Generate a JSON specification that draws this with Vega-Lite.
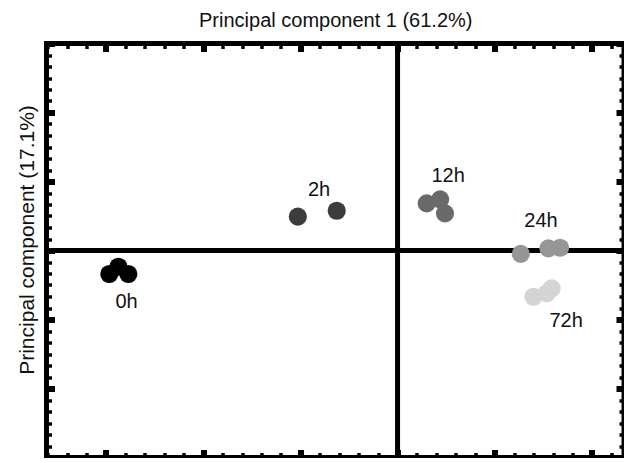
{
  "$schema": "https://vega.github.io/schema/vega-lite/v6.json",
  "autosize": {"type": "none"},
  "padding": {"left": 46.5, "top": 43.5, "right": 0, "bottom": 0},
  "width": 577.5,
  "height": 414,
  "background": "white",
  "datasets": {
    "points": [
      {"time": "0h", "pc1": -14.83, "pc2": -2.04},
      {"time": "0h", "pc1": -14.36, "pc2": -1.41},
      {"time": "0h", "pc1": -13.85, "pc2": -2.04},
      {"time": "2h", "pc1": -5.13, "pc2": 2.94},
      {"time": "2h", "pc1": -3.13, "pc2": 3.46},
      {"time": "12h", "pc1": 1.5, "pc2": 4.1},
      {"time": "12h", "pc1": 2.19, "pc2": 4.45},
      {"time": "12h", "pc1": 2.44, "pc2": 3.23},
      {"time": "24h", "pc1": 6.34, "pc2": -0.3},
      {"time": "24h", "pc1": 7.76, "pc2": 0.19},
      {"time": "24h", "pc1": 8.36, "pc2": 0.24},
      {"time": "72h", "pc1": 6.99, "pc2": -4.02},
      {"time": "72h", "pc1": 7.67, "pc2": -3.72},
      {"time": "72h", "pc1": 7.93, "pc2": -3.29}
    ],
    "labels": [
      {"label": "0h", "pc1": -13.94, "pc2": -4.48},
      {"label": "2h", "pc1": -4.04, "pc2": 5.26},
      {"label": "12h", "pc1": 2.6, "pc2": 6.48},
      {"label": "24h", "pc1": 7.38, "pc2": 2.57},
      {"label": "72h", "pc1": 8.67, "pc2": -6.13}
    ],
    "vline": [{"pc1": 0, "pc2a": -18, "pc2b": 18}],
    "hline": [{"pc2": 0, "pc1a": -18.06, "pc1b": 11.65}]
  },
  "layer": [
    {
      "data": {"name": "vline"},
      "mark": {"type": "rule", "color": "black", "strokeWidth": 5},
      "encoding": {
        "x": {"field": "pc1", "type": "quantitative",
          "scale": {"domain": [-18.06, 11.65], "nice": false, "zero": false},
          "axis": {"orient": "top", "offset": -8, "tickSize": 8, "tickWidth": 6,
            "values": [-15, -10, -5, 0, 5, 10],
            "title": "Principal component 1 (61.2%)", "titleBaseline": "alphabetic", "titleY": -25}},
        "y": {"field": "pc2a", "type": "quantitative",
          "scale": {"domain": [-18, 18], "nice": false, "zero": false},
          "axis": {"orient": "right", "offset": -8, "tickSize": 8, "tickWidth": 6,
            "values": [-18, -12, -6, 0, 6, 12, 18], "title": null}},
        "y2": {"field": "pc2b"}
      }
    },
    {
      "data": {"name": "hline"},
      "mark": {"type": "rule", "color": "black", "strokeWidth": 5},
      "encoding": {
        "y": {"field": "pc2", "type": "quantitative",
          "scale": {"domain": [-18, 18], "nice": false, "zero": false},
          "axis": {"orient": "right", "offset": -5, "tickSize": 5, "tickWidth": 3.5,
            "values": [-17, -16, -15, -14, -13, -11, -10, -9, -8, -7, -5, -4, -3, -2, -1, 1, 2, 3, 4, 5, 7, 8, 9, 10, 11, 13, 14, 15, 16, 17],
            "title": null}},
        "x": {"field": "pc1a", "type": "quantitative",
          "scale": {"domain": [-18.06, 11.65], "nice": false, "zero": false},
          "axis": {"orient": "top", "offset": -5, "tickSize": 5, "tickWidth": 3.5,
            "values": [-18, -17, -16, -14, -13, -12, -11, -9, -8, -7, -6, -4, -3, -2, -1, 1, 2, 3, 4, 6, 7, 8, 9, 11],
            "title": null}},
        "x2": {"field": "pc1b"}
      }
    },
    {
      "data": {"name": "points"},
      "mark": {"type": "circle", "size": 330, "opacity": 1},
      "encoding": {
        "x": {"field": "pc1", "type": "quantitative",
          "scale": {"domain": [-18.06, 11.65], "nice": false, "zero": false},
          "axis": {"orient": "bottom", "offset": -8, "tickSize": 8, "tickWidth": 6,
            "values": [-15, -10, -5, 0, 5, 10], "title": null}},
        "y": {"field": "pc2", "type": "quantitative",
          "scale": {"domain": [-18, 18], "nice": false, "zero": false},
          "axis": {"orient": "left", "offset": -8, "tickSize": 8, "tickWidth": 6,
            "values": [-18, -12, -6, 0, 6, 12, 18],
            "title": "Principal component (17.1%)", "titleBaseline": "alphabetic",
            "titleAngle": -90, "titleX": -21, "titleY": 196, "titleFontSize": 21}},
        "color": {"field": "time", "type": "nominal",
          "scale": {"domain": ["0h", "2h", "12h", "24h", "72h"],
            "range": ["#000000", "#3c3c3c", "#6a6a6a", "#969696", "#d4d4d4"]},
          "legend": null}
      }
    },
    {
      "data": {"name": "labels"},
      "mark": {"type": "text", "font": "Liberation Sans", "fontSize": 20, "color": "#111111", "align": "center", "baseline": "middle"},
      "encoding": {
        "x": {"field": "pc1", "type": "quantitative",
          "scale": {"domain": [-18.06, 11.65], "nice": false, "zero": false},
          "axis": {"orient": "bottom", "offset": -5, "tickSize": 5, "tickWidth": 3.5,
            "values": [-18, -17, -16, -14, -13, -12, -11, -9, -8, -7, -6, -4, -3, -2, -1, 1, 2, 3, 4, 6, 7, 8, 9, 11],
            "title": null}},
        "y": {"field": "pc2", "type": "quantitative",
          "scale": {"domain": [-18, 18], "nice": false, "zero": false},
          "axis": {"orient": "left", "offset": -5, "tickSize": 5, "tickWidth": 3.5,
            "values": [-17, -16, -15, -14, -13, -11, -10, -9, -8, -7, -5, -4, -3, -2, -1, 1, 2, 3, 4, 5, 7, 8, 9, 10, 11, 13, 14, 15, 16, 17],
            "title": null}},
        "text": {"field": "label"}
      }
    }
  ],
  "resolve": {"axis": {"x": "independent", "y": "independent"}},
  "config": {
    "view": {"stroke": "black", "strokeWidth": 5},
    "axis": {"grid": false, "domain": false, "labels": false, "tickColor": "black",
      "titleFont": "Liberation Sans", "titleFontSize": 20, "titleFontWeight": "normal", "titleColor": "#111111"}
  }
}
